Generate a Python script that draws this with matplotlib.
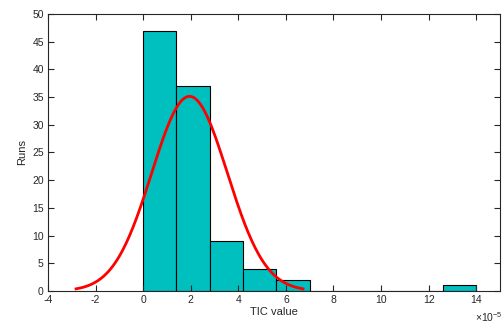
import numpy as np
import matplotlib
matplotlib.use('Agg')
import matplotlib.pyplot as plt

plt.rcParams['font.family'] = ['Liberation Sans', 'DejaVu Sans']
plt.rcParams['axes.unicode_minus'] = False
plt.rcParams['mathtext.fontset'] = 'custom'
plt.rcParams['mathtext.rm'] = 'Liberation Sans'

# histogram data (TIC values in units of 1e-5)
bin_edges = [0.0, 1.4, 2.8, 4.2, 5.6, 7.0, 8.4, 9.8, 11.2, 12.6, 14.0]
counts = [47, 37, 9, 4, 2, 0, 0, 0, 0, 1]
# fitted normal
fit_mu = 1.95
fit_sigma = 1.59
n_runs = sum(counts)

fig = plt.figure(figsize=(5.03, 3.32), dpi=100)
ax = fig.add_axes([0.0954, 0.1235, 0.8986, 0.8345])

widths = np.diff(bin_edges)
ax.bar(bin_edges[:-1], counts, width=widths, align='edge',
       color='#00BFBF', edgecolor='black', linewidth=0.8)

xs = np.linspace(fit_mu - 3 * fit_sigma, fit_mu + 3 * fit_sigma, 200)
ys = n_runs * widths[0] / (fit_sigma * np.sqrt(2 * np.pi)) * np.exp(-0.5 * ((xs - fit_mu) / fit_sigma) ** 2)
ax.plot(xs, ys, color='red', linewidth=2)

ax.set_xlim(-4, 15)
ax.set_ylim(0, 50)
ax.set_xticks(np.arange(-4, 15, 2))
ax.set_yticks(np.arange(0, 51, 5))
ax.tick_params(direction='in', top=True, right=True, length=4, width=0.8,
               labelsize=7.5, colors='#262626', pad=3)
for s in ax.spines.values():
    s.set_linewidth(0.8)
    s.set_color('#262626')

ax.set_xlabel('TIC value', fontsize=8, color='#262626', labelpad=1)
ax.set_ylabel('Runs', fontsize=8, color='#262626', labelpad=4)
fig.text(0.999, 0.025, r'$\times10^{\mathrm{-5}}$', ha='right', va='bottom',
         fontsize=7.5, color='#262626')

plt.savefig('out.png', dpi=100)
